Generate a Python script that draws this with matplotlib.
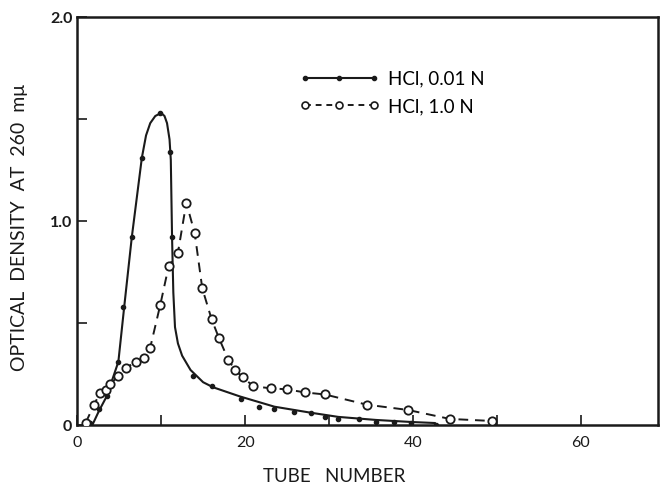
import matplotlib.pyplot as plt
from matplotlib.ticker import MultipleLocator, FixedLocator

# HCl 0.01 N - measured tubes (dots)
low_x = [1.5, 2.6, 3.5, 4.9, 5.4, 6.5, 7.7, 9.9, 11.1, 11.3, 13.8, 16.1, 19.5, 21.6, 23.5,
         25.8, 27.9, 29.5, 31.1, 33.6, 35.6, 37.8, 39.8, 42.8]
low_y = [0.01, 0.08, 0.14, 0.31, 0.58, 0.92, 1.31, 1.53, 1.34, 0.92, 0.24, 0.19, 0.13, 0.09,
         0.08, 0.065, 0.057, 0.04, 0.03, 0.03, 0.016, 0.016, 0.008, 0.0]
# hand drawn curve through the 0.01 N points
low_cx = [1.8, 2.6, 3.5, 4.9, 5.6, 6.5, 7.7, 8.2, 8.7, 9.3, 10.0, 10.4, 10.7, 11.0, 11.15,
          11.3, 11.45, 11.65, 12.0, 12.5, 13.5, 15.0, 16.2, 19.4, 23.5, 27.9, 31.1, 35.6,
          39.8, 42.6]
low_cy = [0.0, 0.07, 0.14, 0.31, 0.58, 0.92, 1.31, 1.42, 1.48, 1.515, 1.53, 1.515, 1.48,
          1.40, 1.30, 0.92, 0.65, 0.48, 0.40, 0.34, 0.27, 0.21, 0.185, 0.14, 0.09, 0.06,
          0.04, 0.025, 0.015, 0.01]

# HCl 1.0 N - open circles
high_x = [1.0, 2.0, 2.7, 3.4, 3.9, 4.9, 5.8, 7.0, 7.9, 8.7, 9.9, 10.9, 12.0, 13.0, 14.0,
          14.9, 16.0, 16.9, 18.0, 18.8, 19.7, 21.0, 23.1, 25.0, 27.1, 29.5, 34.5, 39.4,
          44.4, 49.4]
high_y = [0.01, 0.10, 0.155, 0.17, 0.20, 0.24, 0.28, 0.31, 0.33, 0.38, 0.59, 0.78, 0.845,
          1.09, 0.94, 0.67, 0.52, 0.425, 0.32, 0.27, 0.235, 0.19, 0.18, 0.175, 0.16, 0.15,
          0.10, 0.074, 0.03, 0.02]

x_ticks = [0, 20, 40, 60]
y_ticks = [0, 1.0, 2.0]
y_tick_labels = ['0', '1.0', '2.0']

plt.rcParams['font.family'] = ['Lato', 'DejaVu Sans']

fig = plt.figure(figsize=(6.6, 4.88), dpi=100)
ax = fig.add_axes([0.117, 0.129, 0.880, 0.836])

ax.plot(low_cx, low_cy, color='#1a1a1a', lw=1.5, zorder=2)
ax.plot(low_x, low_y, ls='none', marker='o', ms=3, color='#1a1a1a', zorder=3)
ax.plot(high_x, high_y, color='#1a1a1a', lw=1.4, ls=(0, (5, 3.5)), marker='o', ms=6,
        mfc='white', mec='#1a1a1a', mew=1.3, zorder=4)

# legend drawn as a proxy pair of handles
h1, = ax.plot([], [], color='#1a1a1a', lw=1.5, marker='o', ms=3)
h2, = ax.plot([], [], color='#1a1a1a', lw=1.4, ls=(0, (3, 2.5)), marker='o', ms=5,
              mfc='white', mec='#1a1a1a', mew=1.2)
leg = ax.legend([h1, h2], ['HCl, 0.01 N', 'HCl, 1.0 N'], loc='upper left',
                bbox_to_anchor=(0.353, 0.91), frameon=False, numpoints=3,
                handlelength=4.3, handletextpad=0.45, fontsize=13.5, labelspacing=0.55)

ax.set_xlim(0, 69.2)
ax.set_ylim(0, 2.0)
ax.xaxis.set_major_locator(FixedLocator(x_ticks))
ax.xaxis.set_minor_locator(MultipleLocator(10))
ax.set_yticks(y_ticks)
ax.set_yticklabels(y_tick_labels, fontweight='bold')
ax.yaxis.set_minor_locator(MultipleLocator(0.5))
ax.tick_params(which='both', direction='in', length=7, width=1.2, labelsize=11.5,
               colors='#1a1a1a')
ax.tick_params(axis='x', pad=8)
for s in ax.spines.values():
    s.set_linewidth(1.8)
    s.set_color('#1a1a1a')

ax.set_xlabel('TUBE   NUMBER', fontsize=13.5, color='#1a1a1a')
ax.xaxis.set_label_coords(0.442, -0.105)
ax.set_ylabel('OPTICAL  DENSITY  AT  260  m\u03bc', fontsize=14, color='#1a1a1a')
ax.yaxis.set_label_coords(-0.084, 0.485)

fig.savefig('out.png', dpi=100)
